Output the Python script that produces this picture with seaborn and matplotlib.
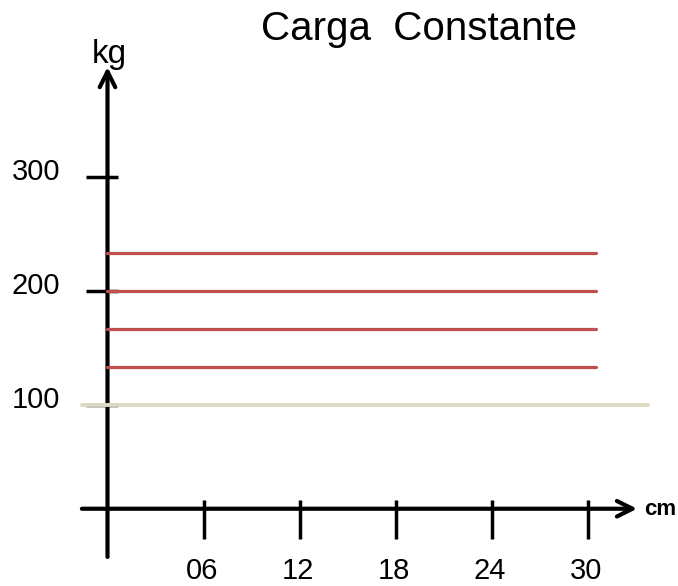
import numpy as np
import pandas as pd
import matplotlib
matplotlib.use('Agg')
import matplotlib.pyplot as plt
import seaborn as sns

# Datos del gráfico
titulo = 'Carga  Constante'
niveles_kg = [133.3, 166.7, 200.0, 233.3]   # líneas rojas
tramo_cm = [0.0, 30.5]                      # largo de las líneas rojas
base_kg = 100                               # línea beige
tramo_base_cm = [-1.6, 33.8]
yticks = [100, 200, 300]
ytick_labels = ['100', '200', '300']
xticks = [6, 12, 18, 24, 30]
xtick_labels = ['06', '12', '18', '24', '30']

rojo = '#C0504D'
beige = '#DDD9C3'

sns.set_style('white')
plt.rcParams['font.family'] = ['Liberation Sans', 'DejaVu Sans']
plt.rcParams['text.color'] = 'black'

fig = plt.figure(figsize=(6.78, 5.86), dpi=100)
ax = fig.add_axes([0, 0, 1, 1])
ax.axis('off')

eje_y = 9  # altura del eje x en kg

# ejes con flecha
flecha = dict(arrowstyle='->, head_length=0.4, head_width=0.2', lw=3,
              color='black', mutation_scale=28, shrinkA=0, shrinkB=0)
ax.annotate('', xy=(0, 396.5), xytext=(0, -33.3), arrowprops=flecha, zorder=2)
ax.annotate('', xy=(33.1, eje_y), xytext=(-1.6, eje_y), arrowprops=flecha, zorder=2)

# marcas de los ejes
ax.hlines(yticks, -1.34, 0.66, color='black', lw=2.5, zorder=2)
ax.vlines(xticks, -17.5, 16.7, color='black', lw=2.5, zorder=2)

for v, lab in zip(yticks, ytick_labels):
    ax.text(-2.95, v + 4, lab, ha='right', va='center', fontsize=21)
for v, lab in zip(xticks, xtick_labels):
    ax.text(v - 0.1, -45.6, lab, ha='center', va='center', fontsize=21)

# líneas de carga
df = pd.DataFrame({
    'cm': tramo_cm * len(niveles_kg),
    'kg': np.repeat(niveles_kg, len(tramo_cm)),
    'nivel': np.repeat(range(len(niveles_kg)), len(tramo_cm)),
})
sns.lineplot(data=df, x='cm', y='kg', units='nivel', estimator=None,
             color=rojo, lw=2.3, ax=ax, zorder=3)

base = pd.DataFrame({'cm': tramo_base_cm, 'kg': [base_kg] * 2})
sns.lineplot(data=base, x='cm', y='kg', color=beige, lw=2.8, ax=ax, zorder=3)

# escala: 16 px por cm, 1.14 px por kg
ax.set_xlim(-107.5 / 16, (678 - 107.5) / 16)
ax.set_ylim((519 - 586) / 1.14, 519 / 1.14)
ax.axis('off')

# textos
fig.text(0.618, 0.9317, titulo, ha='center', va='baseline', fontsize=29)
fig.text(0.1615, 0.8925, 'kg', ha='center', va='baseline', fontsize=24)
fig.text(0.974, 0.1212, 'cm', ha='center', va='baseline', fontsize=16,
         fontweight='bold')

fig.savefig('out.png', dpi=100)
